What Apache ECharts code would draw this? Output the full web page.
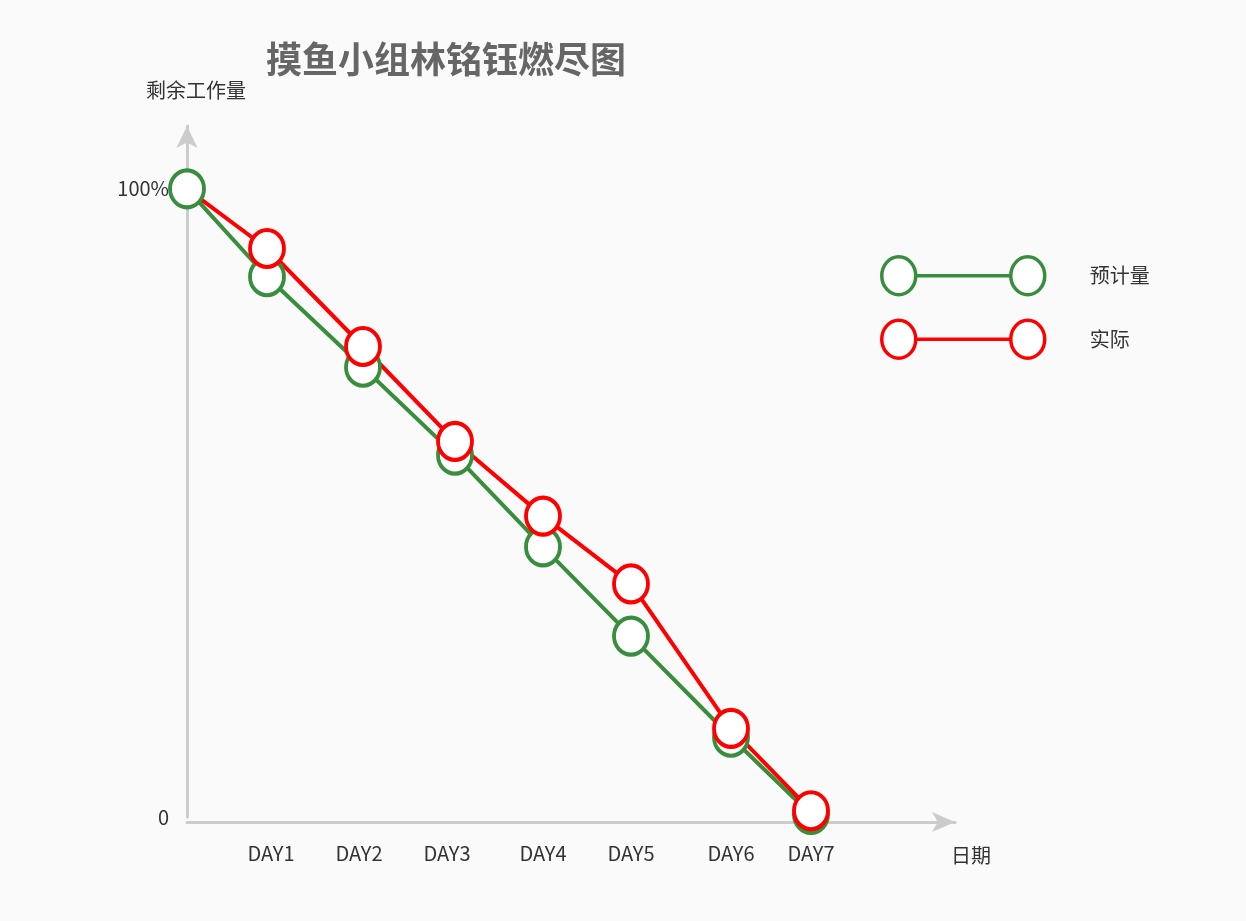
<!DOCTYPE html>
<html>
<head>
<meta charset="utf-8">
<script src="https://cdn.jsdelivr.net/npm/echarts@6/dist/echarts.min.js"></script>
<style>
html, body { margin: 0; padding: 0; background: #fafafa; }
#main { width: 1246px; height: 921px; }
</style>
</head>
<body>
<div id="main"></div>
<script>
// x positions of the points on the day scale, and the two burndown series
var dayX = [0, 20, 44, 67, 89, 111, 136, 156];
var planned = [100, 86, 71.6, 57.6, 43, 28.8, 12.7, 0.4];
var actual = [100, 90.5, 74.9, 59.8, 47.9, 37.1, 14.1, 1];
// x axis tick labels
var dayLabelPos = [21, 43, 65, 89, 111, 136, 156];
var dayNames = ['DAY1', 'DAY2', 'DAY3', 'DAY4', 'DAY5', 'DAY6', 'DAY7'];
var yLabelPos = [0, 100];
var yLabelText = ['0', '100%'];

var green = '#388e3c';
var red = '#ff0000';
var legendIcon = 'path://M0,19 A17,19 0 1,1 34,19 A17,19 0 1,1 0,19 Z M129,19 A17,19 0 1,1 163,19 A17,19 0 1,1 129,19 Z M34,19 L129,19';

function pairs(ys, hideFirst) {
    return ys.map(function (y, i) {
        if (hideFirst && i === 0) {
            return { value: [dayX[i], y], symbol: 'none' };
        }
        return [dayX[i], y];
    });
}

var myChart = echarts.init(document.getElementById('main'));
var option = {
    backgroundColor: '#fafafa',
    animation: false,
    textStyle: { fontFamily: 'Noto Sans CJK SC' },
    title: {
        text: '摸鱼小组林铭钰燃尽图',
        left: 266,
        top: 41,
        padding: 0,
        textStyle: { fontSize: 36, fontWeight: 'bold', color: '#666' }
    },
    legend: {
        orient: 'vertical',
        left: 880,
        top: 255,
        padding: 0,
        itemWidth: 163,
        itemHeight: 38,
        itemGap: 22,
        icon: legendIcon,
        textStyle: { fontSize: 20, color: '#333', padding: [4, 0, 0, 40] },
        data: [
            { name: '预计量', itemStyle: { color: '#fff', borderColor: green, borderWidth: 3.5 } },
            { name: '实际', itemStyle: { color: '#fff', borderColor: red, borderWidth: 3.5 } }
        ]
    },
    grid: { left: 187, right: 291, top: 126, bottom: 104 },
    xAxis: {
        type: 'value',
        min: 0,
        max: 192,
        offset: 5,
        name: '日期',
        nameGap: -4,
        nameTextStyle: { fontSize: 20, color: '#333', verticalAlign: 'top', lineHeight: 66 },
        axisLine: { onZero: false, symbol: ['none', 'arrow'], symbolSize: [15, 23], lineStyle: { color: '#ccc', width: 3 } },
        axisTick: { show: false },
        splitLine: { show: false },
        axisLabel: {
            customValues: dayLabelPos,
            margin: 21,
            fontSize: 20,
            color: '#333',
            formatter: function (v) { return dayNames[dayLabelPos.indexOf(v)] || ''; }
        }
    },
    yAxis: {
        type: 'value',
        min: 0,
        max: 110,
        name: '剩余工作量',
        nameGap: 26,
        nameTextStyle: { fontSize: 20, color: '#333', padding: [0, 0, 0, 18] },
        axisLine: { show: true, symbol: ['none', 'arrow'], symbolSize: [16, 22], lineStyle: { color: '#ccc', width: 3 } },
        axisTick: { show: false },
        splitLine: { show: false },
        axisLabel: {
            customValues: yLabelPos,
            margin: 18,
            fontSize: 20,
            color: '#333',
            formatter: function (v) { return yLabelText[yLabelPos.indexOf(v)] || ''; }
        }
    },
    series: [{
        name: '预计量',
        type: 'line',
        data: pairs(planned, false),
        symbol: 'circle',
        symbolSize: [34, 37],
        lineStyle: { color: green, width: 4 },
        itemStyle: { color: '#fff', borderColor: green, borderWidth: 4 }
    }, {
        name: '实际',
        type: 'line',
        data: pairs(actual, true),
        symbol: 'circle',
        symbolSize: [34, 37],
        lineStyle: { color: red, width: 4 },
        itemStyle: { color: '#fff', borderColor: red, borderWidth: 4 }
    }]
};
myChart.setOption(option);
</script>
</body>
</html>
